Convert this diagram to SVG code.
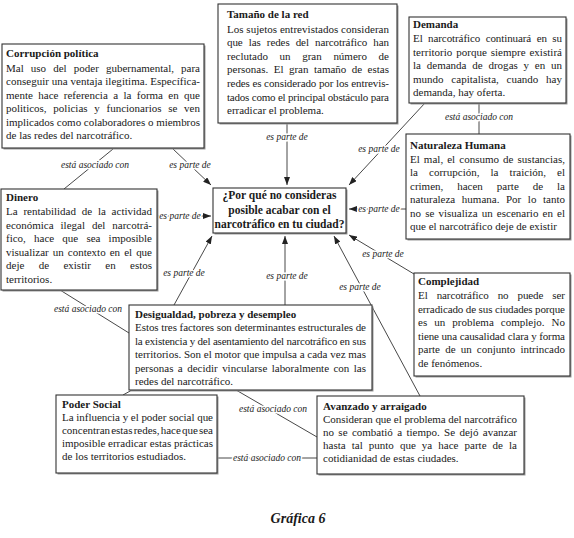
<svg xmlns="http://www.w3.org/2000/svg" width="574" height="538" viewBox="0 0 574 538">
<defs>
<marker id="ah" viewBox="0 0 8 6" refX="8" refY="3" markerWidth="8" markerHeight="6" markerUnits="userSpaceOnUse" orient="auto"><path d="M0,0 L8,3 L0,6 z" fill="#222"/></marker>
<style>
.t{font-family:"Liberation Serif",serif;font-size:11px;fill:#1a1a1a}
.h{font-weight:bold}
.q{font-family:"Liberation Serif",serif;font-size:11.5px;font-weight:bold;fill:#1a1a1a;text-anchor:middle}
.lbl{font-family:"Liberation Serif",serif;font-style:italic;font-size:9.5px;fill:#1a1a1a;text-anchor:middle;paint-order:stroke;stroke:#fff;stroke-width:3px;stroke-linejoin:round}
.box{fill:#fff;stroke:#333;stroke-width:1.1}
.sh{fill:#9a9a9a}
.c{stroke:#333;stroke-width:0.9;fill:none}
.a{marker-end:url(#ah)}
.cap{font-family:"Liberation Serif",serif;font-size:14px;font-weight:bold;font-style:italic;fill:#1a1a1a;text-anchor:middle}
</style>
</defs>
<rect width="574" height="538" fill="#fff"/>
<g id="connectors">
<line class="c a" x1="173" y1="149" x2="211" y2="185"/>
<line class="c a" x1="287" y1="123" x2="287" y2="185"/>
<line class="c a" x1="425" y1="103" x2="349" y2="185"/>
<line class="c a" x1="406" y1="209" x2="349" y2="209"/>
<line class="c a" x1="157" y1="216" x2="211" y2="216"/>
<line class="c a" x1="414" y1="274" x2="349" y2="235"/>
<line class="c a" x1="174" y1="305" x2="212" y2="236"/>
<line class="c a" x1="285" y1="305" x2="285" y2="236"/>
<line class="c a" x1="420" y1="396" x2="334" y2="236"/>
<line class="c" x1="113" y1="149" x2="64" y2="189"/>
<line class="c" x1="479" y1="103" x2="479" y2="134"/>
<line class="c" x1="60" y1="290" x2="129" y2="333"/>
<line class="c" x1="236" y1="390" x2="317" y2="437"/>
<line class="c" x1="217" y1="458" x2="317" y2="458"/>
<line class="c" x1="132" y1="390" x2="123" y2="395"/>
<text class="lbl" x="190" y="168">es parte de</text>
<text class="lbl" x="287" y="140">es parte de</text>
<text class="lbl" x="379" y="152">es parte de</text>
<text class="lbl" x="379" y="212">es parte de</text>
<text class="lbl" x="180" y="219">es parte de</text>
<text class="lbl" x="383" y="257">es parte de</text>
<text class="lbl" x="184" y="276">es parte de</text>
<text class="lbl" x="287" y="279">es parte de</text>
<text class="lbl" x="360" y="290">es parte de</text>
<text class="lbl" x="95" y="168">está asociado con</text>
<text class="lbl" x="479" y="120">está asociado con</text>
<text class="lbl" x="88" y="312">está asociado con</text>
<text class="lbl" x="273" y="412">está asociado con</text>
<text class="lbl" x="267" y="461">está asociado con</text>
</g>
<g id="n-corrupcion">
<rect class="sh" x="3.5" y="45.5" width="202" height="104"/>
<rect class="box" x="2" y="44" width="202" height="104"/>
<text class="t h" x="6" y="57">Corrupción política</text>
<text class="t" x="6" y="71.5" textLength="194" lengthAdjust="spacing" word-spacing="4.4">Mal uso del poder gubernamental, para</text>
<text class="t" x="6" y="85" textLength="194" lengthAdjust="spacing">conseguir una ventaja ilegitima. Específica-</text>
<text class="t" x="6" y="98.5" textLength="194" lengthAdjust="spacing" word-spacing="2.6">mente hace referencia a la forma en que</text>
<text class="t" x="6" y="112" textLength="194" lengthAdjust="spacing" word-spacing="4">politicos, policias y funcionarios se ven</text>
<text class="t" x="6" y="125.5" textLength="194" lengthAdjust="spacing">implicados como colaboradores o miembros</text>
<text class="t" x="6" y="139">de las redes del narcotráfico.</text>
</g>
<g id="n-tamano">
<rect class="sh" x="219.5" y="5.5" width="179" height="119"/>
<rect class="box" x="218" y="4" width="179" height="119"/>
<text class="t h" x="227" y="18">Tamaño de la red</text>
<text class="t" x="227" y="32.5" textLength="162" lengthAdjust="spacing">Los sujetos entrevistados consideran</text>
<text class="t" x="227" y="46" textLength="162" lengthAdjust="spacing" word-spacing="3.4">que las redes del narcotráfico han</text>
<text class="t" x="227" y="59.5" textLength="162" lengthAdjust="spacing" word-spacing="8.9">reclutado un gran número de</text>
<text class="t" x="227" y="73" textLength="162" lengthAdjust="spacing" word-spacing="2.7">personas. El gran tamaño de estas</text>
<text class="t" x="227" y="87" textLength="162" lengthAdjust="spacing">redes es considerado por los entrevis-</text>
<text class="t" x="227" y="100.5" textLength="162" lengthAdjust="spacing">tados como el principal obstáculo para</text>
<text class="t" x="227" y="114">erradicar el problema.</text>
</g>
<g id="n-demanda">
<rect class="sh" x="410.5" y="18.5" width="157" height="86"/>
<rect class="box" x="409" y="17" width="157" height="86"/>
<text class="t h" x="413" y="28">Demanda</text>
<text class="t" x="413" y="41.5" textLength="149" lengthAdjust="spacing" word-spacing="2.8">El narcotráfico continuará en su</text>
<text class="t" x="413" y="55.5" textLength="149" lengthAdjust="spacing" word-spacing="1">territorio porque siempre existirá</text>
<text class="t" x="413" y="69" textLength="149" lengthAdjust="spacing" word-spacing="3">la demanda de drogas y en un</text>
<text class="t" x="413" y="82.5" textLength="149" lengthAdjust="spacing" word-spacing="5">mundo capitalista, cuando hay</text>
<text class="t" x="413" y="96">demanda, hay oferta.</text>
</g>
<g id="n-naturaleza">
<rect class="sh" x="407.5" y="135.5" width="164" height="105"/>
<rect class="box" x="406" y="134" width="164" height="105"/>
<text class="t h" x="410" y="149">Naturaleza Humana</text>
<text class="t" x="410" y="162.5" textLength="155" lengthAdjust="spacing" word-spacing="1.3">El mal, el consumo de sustancias,</text>
<text class="t" x="410" y="176" textLength="155" lengthAdjust="spacing" word-spacing="8.3">la corrupción, la traición, el</text>
<text class="t" x="410" y="189.5" textLength="155" lengthAdjust="spacing" word-spacing="11.2">crimen, hacen parte de la</text>
<text class="t" x="410" y="203" textLength="155" lengthAdjust="spacing" word-spacing="3.8">naturaleza humana. Por lo tanto</text>
<text class="t" x="410" y="216.5" textLength="155" lengthAdjust="spacing" word-spacing="1.4">no se visualiza un escenario en el</text>
<text class="t" x="410" y="230">que el narcotráfico deje de existir</text>
</g>
<g id="n-pregunta">
<rect class="sh" x="214.5" y="189.5" width="133" height="45"/>
<rect class="box" x="213" y="188" width="133" height="45"/>
<text class="q" x="279.5" y="199">¿Por qué no consideras</text>
<text class="q" x="279.5" y="213.5">posible acabar con el</text>
<text class="q" x="279.5" y="228">narcotráfico en tu ciudad?</text>
</g>
<g id="n-dinero">
<rect class="sh" x="2.5" y="190.5" width="156" height="101"/>
<rect class="box" x="1" y="189" width="156" height="101"/>
<text class="t h" x="6" y="201">Dinero</text>
<text class="t" x="6" y="215" textLength="146" lengthAdjust="spacing" word-spacing="3">La rentabilidad de la actividad</text>
<text class="t" x="6" y="228.5" textLength="146" lengthAdjust="spacing" word-spacing="4.2">económica ilegal del narcotrá-</text>
<text class="t" x="6" y="242" textLength="146" lengthAdjust="spacing" word-spacing="5.4">fico, hace que sea imposible</text>
<text class="t" x="6" y="255.5" textLength="146" lengthAdjust="spacing" word-spacing="1.3">visualizar un contexto en el que</text>
<text class="t" x="6" y="269" textLength="146" lengthAdjust="spacing" word-spacing="11.6">deje de existir en estos</text>
<text class="t" x="6" y="282.5">territorios.</text>
</g>
<g id="n-complejidad">
<rect class="sh" x="415.5" y="274.5" width="156" height="103"/>
<rect class="box" x="414" y="273" width="156" height="103"/>
<text class="t h" x="418" y="285">Complejidad</text>
<text class="t" x="418" y="299" textLength="147" lengthAdjust="spacing" word-spacing="6.4">El narcotráfico no puede ser</text>
<text class="t" x="418" y="312.5" textLength="147" lengthAdjust="spacing">erradicado de sus ciudades porque</text>
<text class="t" x="418" y="326" textLength="147" lengthAdjust="spacing" word-spacing="4.3">es un problema complejo. No</text>
<text class="t" x="418" y="339.5" textLength="147" lengthAdjust="spacing">tiene una causalidad clara y forma</text>
<text class="t" x="418" y="353" textLength="147" lengthAdjust="spacing" word-spacing="2.4">parte de un conjunto intrincado</text>
<text class="t" x="418" y="366.5">de fenómenos.</text>
</g>
<g id="n-desigualdad">
<rect class="sh" x="130.5" y="306.5" width="243" height="85"/>
<rect class="box" x="129" y="305" width="243" height="85"/>
<text class="t h" x="135" y="317.5">Desigualdad, pobreza y desempleo</text>
<text class="t" x="135" y="331" textLength="231" lengthAdjust="spacing">Estos tres factores son determinantes estructurales de</text>
<text class="t" x="135" y="344.5" textLength="231" lengthAdjust="spacing">la existencia y del asentamiento del narcotráfico en sus</text>
<text class="t" x="135" y="358" textLength="231" lengthAdjust="spacing">territorios. Son el motor que impulsa a cada vez mas</text>
<text class="t" x="135" y="371.5" textLength="231" lengthAdjust="spacing" word-spacing="1.7">personas a decidir vincularse laboralmente con las</text>
<text class="t" x="135" y="384.5">redes del narcotráfico.</text>
</g>
<g id="n-poder">
<rect class="sh" x="57.5" y="396.5" width="161" height="78"/>
<rect class="box" x="56" y="395" width="161" height="78"/>
<text class="t h" x="62" y="407.5">Poder Social</text>
<text class="t" x="62" y="420.5" textLength="151" lengthAdjust="spacing">La influencia y el poder social que</text>
<text class="t" x="62" y="433.5" textLength="151" lengthAdjust="spacing" word-spacing="-1.5">concentran estas redes, hace que sea</text>
<text class="t" x="62" y="446.5" textLength="151" lengthAdjust="spacing">imposible erradicar estas prácticas</text>
<text class="t" x="62" y="459.5">de los territorios estudiados.</text>
</g>
<g id="n-avanzado">
<rect class="sh" x="318.5" y="397.5" width="207" height="78"/>
<rect class="box" x="317" y="396" width="207" height="78"/>
<text class="t h" x="323" y="410">Avanzado y arraigado</text>
<text class="t" x="323" y="423" textLength="194" lengthAdjust="spacing">Consideran que el problema del narcotráfico</text>
<text class="t" x="323" y="436" textLength="194" lengthAdjust="spacing" word-spacing="1.6">no se combatió a tiempo. Se dejó avanzar</text>
<text class="t" x="323" y="449" textLength="194" lengthAdjust="spacing" word-spacing="3.3">hasta tal punto que ya hace parte de la</text>
<text class="t" x="323" y="461.5">cotidianidad de estas ciudades.</text>
</g>
<text class="cap" x="298" y="523">Gráfica 6</text>
</svg>
